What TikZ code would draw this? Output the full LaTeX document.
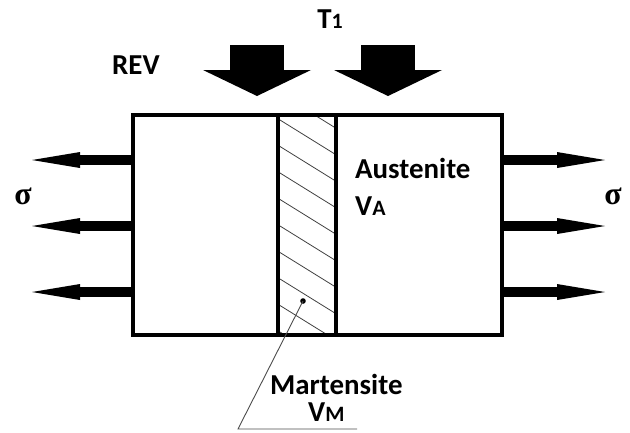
\documentclass[tikz,border=0pt]{standalone}
\usepackage{fontspec}
\setmainfont{Carlito}
\newfontfamily\sigfont{Liberation Serif}
\usepackage{tikz}
\usetikzlibrary{arrows.meta}

\begin{document}
\begin{tikzpicture}[x=1bp,y=-1bp,
    lbl/.style={inner sep=0pt,font=\fontsize{29}{32}\selectfont\bfseries},
    sig/.style={inner sep=0pt,font=\fontsize{32}{34}\selectfont\sigfont\bfseries},
    pull/.style={line width=10bp,-{Triangle[length=48bp,width=16bp,line width=0pt]}},
    heat/.style={line width=54bp,-{Triangle[length=26bp,width=108bp,line width=0pt]}},
    hatch/.style={line width=0.8bp,black!75}]
  \useasboundingbox (0,0) rectangle (630,432);
  % REV box and martensite strip
  \coordinate (nw) at (133,115);
  \coordinate (se) at (502,335);
  \coordinate (mt) at (278,115);
  \coordinate (mb) at (336,335);
  \begin{scope}
    \clip (280,117) rectangle (334,333);
    \foreach \k in {-2,...,9}
      \draw[hatch] (280,120+26.5*\k) -- ++(54,33.5);
  \end{scope}
  \draw[line width=3.5bp] (nw) rectangle (se);
  \draw[line width=3.5bp] (mt) -- (mt|-se);
  \draw[line width=3.5bp] (mb|-nw) -- (mb);
  % labels
  \node[lbl] (t1) at (330,19) {T{\fontsize{22}{24}\selectfont 1}};
  \node[lbl,anchor=west] (rev) at (112,65) {REV};
  \node[lbl,anchor=west] (aus) at (355,168) {Austenite};
  \node[lbl,anchor=west] (va) at (355,206) {V{\fontsize{22}{24}\selectfont A}};
  \node[lbl,anchor=west] (mar) at (270,384) {Martensite};
  \node[lbl,anchor=west] (vm) at (308,412) {V{\fontsize{22}{24}\selectfont M}};
  \node[sig] (sl) at (23,196) {σ};
  \node[sig] (sr) at (613,196) {σ};
  % heating arrows
  \coordinate (h1) at (257,45);
  \coordinate (h1e) at (257,96);
  \coordinate (h2) at (388,45);
  \coordinate (h2e) at (388,96);
  \draw[heat] (h1) -- (h1e);
  \draw[heat] (h2) -- (h2e);
  % stress arrows
  \foreach \y [count=\i] in {160,226,292} {
    \coordinate (l\i) at (131,\y);
    \coordinate (le\i) at (32,\y);
    \coordinate (r\i) at (504,\y);
    \coordinate (re\i) at (605,\y);
    \draw[pull] (l\i) -- (le\i);
    \draw[pull] (r\i) -- (re\i);
  }
  % leader to martensite
  \coordinate (dot) at (303,301);
  \coordinate (kn) at (238,429);
  \coordinate (ue) at (357,429);
  \fill (dot) circle (2.8bp);
  \draw[line width=0.9bp,black!70] (dot) -- (kn) -- (ue);
\end{tikzpicture}
\end{document}
